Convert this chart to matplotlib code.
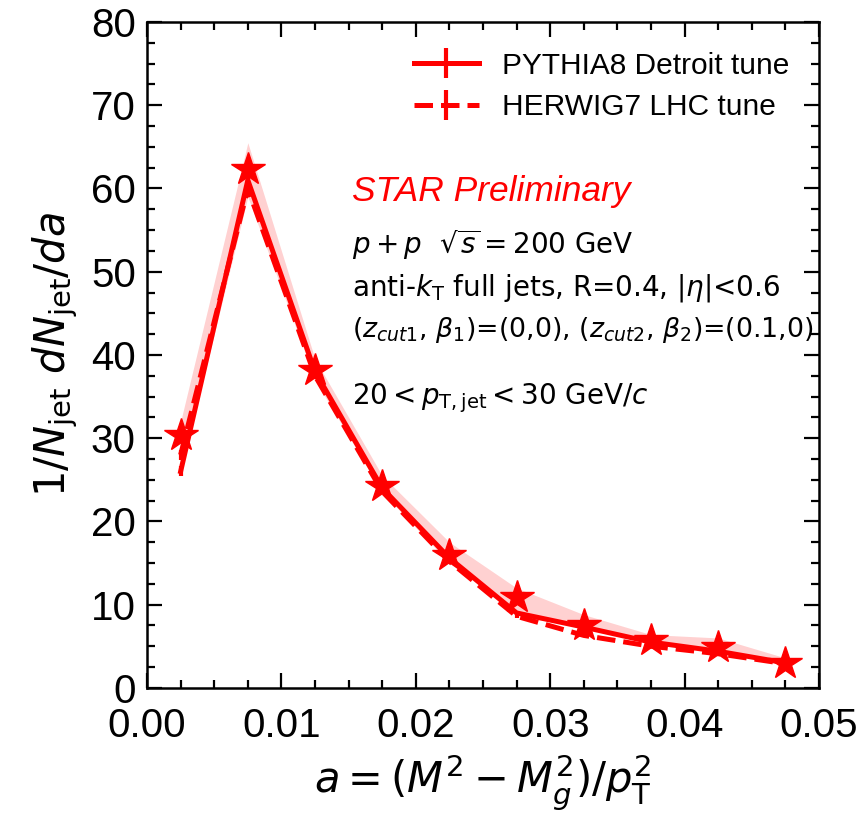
## Import Required Packages
import matplotlib.pyplot as plt
import numpy as np
from matplotlib.ticker import MultipleLocator

plt.rcParams['font.family'] = ['Liberation Sans', 'DejaVu Sans']
plt.rcParams['mathtext.fontset'] = 'dejavusans'

## Data
a_bins = [0.0025, 0.0075, 0.0125, 0.0175, 0.0225, 0.0275, 0.0325, 0.0375, 0.0425, 0.0475]
stars = [30.4, 62.3, 38.2, 24.2, 16.0, 10.9, 7.5, 5.7, 4.9, 3.0]
pythia = [26.0, 61.0, 38.0, 24.0, 15.6, 9.0, 7.3, 5.5, 4.4, 3.0]
pythia_err = [0.6, 0.5, 0.4, 0.3, 0.2, 0.2, 0.2, 0.15, 0.15, 0.1]
herwig = [28.0, 60.0, 37.5, 23.6, 15.2, 8.6, 6.3, 5.0, 4.1, 2.9]
herwig_err = [0.6, 0.5, 0.4, 0.3, 0.2, 0.2, 0.2, 0.15, 0.15, 0.1]
band_lo = [26.0, 59.0, 37.0, 23.5, 15.0, 9.0, 7.2, 5.4, 4.3, 2.9]
band_hi = [32.0, 65.5, 39.5, 25.5, 17.5, 12.0, 8.8, 6.4, 6.0, 3.6]

red = '#ff0000'

fig = plt.figure(figsize=(8.67, 8.15), dpi=100)
ax = fig.add_axes([0.1696, 0.156, 0.775, 0.817])

## Band and curves
ax.fill_between(a_bins, band_lo, band_hi, color=red, alpha=0.18, linewidth=0)
ax.errorbar(a_bins, pythia, yerr=pythia_err, color=red, lw=3.6, elinewidth=3,
            label='PYTHIA8 Detroit tune')
ax.errorbar(a_bins, herwig, yerr=herwig_err, color=red, lw=3.6, elinewidth=3,
            ls='--', label='HERWIG7 LHC tune')
ax.plot(a_bins, stars, ls='none', marker='*', ms=25, color=red)

## Axes
ax.set_xlim(0, 0.05)
ax.set_ylim(0, 80)
ax.xaxis.set_major_locator(MultipleLocator(0.01))
ax.xaxis.set_minor_locator(MultipleLocator(0.0025))
ax.yaxis.set_major_locator(MultipleLocator(10))
ax.yaxis.set_minor_locator(MultipleLocator(2.5))
ax.set_xticks([0, 0.01, 0.02, 0.03, 0.04, 0.05])
ax.set_xticklabels(['0.00', '0.01', '0.02', '0.03', '0.04', '0.05'])
ax.tick_params(which='both', direction='in', top=True, right=True, labelsize=29, width=1.6)
ax.tick_params(which='major', length=11, pad=8)
ax.tick_params(axis='x', which='major', pad=14)
ax.tick_params(which='minor', length=6)
for sp in ax.spines.values():
    sp.set_linewidth(1.8)

ax.set_xlabel(r'$a = (M^2 - M_g^2)/p_{\rm T}^2$', fontsize=30, labelpad=5)
ax.set_ylabel(r'$1/N_{\rm jet}\ dN_{\rm jet}/da$', fontsize=30, labelpad=8)

## Legend and annotations
ax.legend(loc='upper right', frameon=False, fontsize=21.5, handlelength=2.2,
          handletextpad=0.75, borderaxespad=0.6, labelspacing=0.45)
ax.text(0.305, 0.745, 'STAR Preliminary', transform=ax.transAxes, color=red,
        fontsize=25.5, style='italic', va='center')
ax.text(0.305, 0.665, r'$p+p\ \ \sqrt{s} = 200$ GeV', transform=ax.transAxes,
        fontsize=20, va='center', family='DejaVu Sans')
ax.text(0.305, 0.60, r'anti-$k_{\rm T}$ full jets, R=0.4, $|\eta|$<0.6', transform=ax.transAxes,
        fontsize=20, va='center', family='DejaVu Sans')
ax.text(0.305, 0.537, r'($z_{cut1}$, $\beta_1$)=(0,0), ($z_{cut2}$, $\beta_2$)=(0.1,0)',
        transform=ax.transAxes, fontsize=19.3, va='center', family='DejaVu Sans')
ax.text(0.305, 0.435, r'$20 < p_{\rm T,jet} < 30$ GeV/$c$', transform=ax.transAxes,
        fontsize=20, va='center', family='DejaVu Sans')

plt.savefig('out.png', dpi=100)
